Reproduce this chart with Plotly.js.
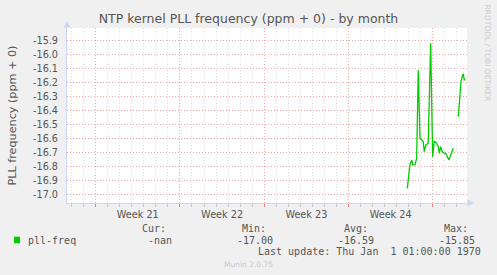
<!DOCTYPE html>
<html>
<head>
<meta charset="utf-8">
<script src="https://cdn.plot.ly/plotly-3.0.1.min.js"></script>
<style>html,body{margin:0;padding:0;background:#f0f0f0;}#chart{width:497px;height:275px;}</style>
</head>
<body>
<div id="chart"></div>
<script>
// ---- data (x = days since start of Week 21) ----
var dayOffsets = [25.88, 26.10, 26.25, 26.33, 26.52, 26.66, 26.79, 26.94, 27.08, 27.21, 27.29, 27.43, 27.62, 27.82, 27.99, 28.12, 28.32, 28.46, 28.54, 28.65, 28.79, 28.95, 29.07, 29.20, 29.34, 29.49, 29.70, 29.90, 30.12, 30.26, 30.34, 30.48, 30.53, 30.61, 30.70];
var pllFreq = [-16.956, -16.789, -16.754, -16.789, -16.789, -16.741, -16.111, -16.599, -16.611, -16.623, -16.694, -16.646, -16.634, -15.920, -16.730, -16.618, -16.634, -16.659, -16.706, -16.659, -16.694, -16.706, -16.706, -16.730, -16.754, -16.718, -16.670, null, -16.444, -16.277, -16.194, -16.146, -16.139, -16.182, -16.177];
var weekStarts = [0, 7, 14, 21, 28];
var weekLabelPos = [3.5, 10.5, 17.5, 24.5];
var weekLabels = ["Week 21", "Week 22", "Week 23", "Week 24"];
var yTickVals = [-17.0, -16.9, -16.8, -16.7, -16.6, -16.5, -16.4, -16.3, -16.2, -16.1, -16.0, -15.9];
var yTickText = ["-17.0", "-16.9", "-16.8", "-16.7", "-16.6", "-16.5", "-16.4", "-16.3", "-16.2", "-16.1", "-16.0", "-15.9"];
var seriesName = "pll-freq";
var statHeaders = ["Cur:", "Min:", "Avg:", "Max:"];
var statValues = ["-nan", "-17.00", "-16.59", "-15.85"];
var lastUpdate = "Last update: Thu Jan\u00a0 1 01:00:00 1970";

// ---- layout helpers (pixel -> paper) ----
var L = 67, R = 467, T = 28, B = 203;
function px(x){ return (x - L) / (R - L); }
function py(y){ return (B - y) / (B - T); }

var xRange = [-2.38, 30.84];
var yRange = [-17.0607, -15.811];
var mono = "DejaVu Sans Mono, monospace";
var sans = "DejaVu Sans, sans-serif";
var fontCol = "#555555";

var annotations = [];
var headRight = [168, 268, 370, 470];
var valRight = [174, 275, 376, 477];
statHeaders.forEach(function(h, i){
  annotations.push({xref:'paper', yref:'paper', x:px(headRight[i]), y:py(228.3), xanchor:'right', yanchor:'middle', text:h, showarrow:false, font:{family:mono, size:10, color:fontCol}});
  annotations.push({xref:'paper', yref:'paper', x:px(valRight[i]), y:py(240), xanchor:'right', yanchor:'middle', text:statValues[i], showarrow:false, font:{family:mono, size:10, color:fontCol}});
});
annotations.push({xref:'paper', yref:'paper', x:px(26), y:py(240), xanchor:'left', yanchor:'middle', text:seriesName, showarrow:false, font:{family:mono, size:10, color:fontCol}});
annotations.push({xref:'paper', yref:'paper', x:px(483), y:py(251.7), xanchor:'right', yanchor:'middle', text:lastUpdate, showarrow:false, font:{family:mono, size:10, color:fontCol}});
annotations.push({xref:'paper', yref:'paper', x:px(248), y:py(264), xanchor:'center', yanchor:'middle', text:"Munin 2.0.75", showarrow:false, font:{family:sans, size:7.5, color:'#c8c8c8'}});
annotations.push({xref:'paper', yref:'paper', x:px(487.5), y:py(53), xanchor:'center', yanchor:'middle', textangle:90, text:"RRDTOOL / TOBI OETIKER", showarrow:false, font:{family:sans, size:7.5, color:'#cccccc'}});

var axisCol = "#CFD6F8";
var shapes = [
  {type:'rect', xref:'paper', yref:'paper', x0:px(14), x1:px(20), y0:py(243.3), y1:py(236.7), fillcolor:'#00cc00', line:{width:0}},
  {type:'path', xref:'paper', yref:'paper', path:'M '+px(63.5)+' '+py(27.5)+' L '+px(67)+' '+py(21)+' L '+px(70.5)+' '+py(27.5)+' Z', fillcolor:axisCol, line:{width:0}},
  {type:'path', xref:'paper', yref:'paper', path:'M '+px(467.5)+' '+py(199.5)+' L '+px(474)+' '+py(203)+' L '+px(467.5)+' '+py(206.5)+' Z', fillcolor:axisCol, line:{width:0}}
];

var trace = {
  x: dayOffsets, y: pllFreq, type:'scatter', mode:'lines', name:seriesName,
  line:{color:'#00cc00', width:1.3}, connectgaps:false, hoverinfo:'skip'
};
var labelTrace = {x:[weekLabelPos[0]], y:[null], xaxis:'x2', yaxis:'y', type:'scatter', mode:'lines', showlegend:false, hoverinfo:'skip'};

var layout = {
  width:497, height:275,
  paper_bgcolor:'#f0f0f0', plot_bgcolor:'#ffffff',
  margin:{l:L, r:497-R, t:T, b:275-B, pad:0},
  showlegend:false,
  title:{text:"NTP kernel PLL frequency (ppm + 0) - by month", xref:'container', x:0.5, xanchor:'center', y:1-19/275, yref:'container', yanchor:'middle', font:{family:sans, size:12.5, color:fontCol}},
  xaxis:{
    range:xRange, tickmode:'array', tickvals:weekStarts, showticklabels:false,
    showgrid:true, gridcolor:'#eaa8a8', griddash:'1px,2px', gridwidth:1,
    ticks:'outside', ticklen:3, tickcolor:'#e08080', tickwidth:1,
    showline:true, linecolor:axisCol, linewidth:1, zeroline:false,
    minor:{dtick:1, tick0:0, showgrid:true, gridcolor:'#dcdcdc', griddash:'1px,2px', gridwidth:1, ticks:'outside', ticklen:3, tickcolor:'#c8c8c8'}
  },
  xaxis2:{
    overlaying:'x', anchor:'y', side:'bottom', range:xRange, tickmode:'array', tickvals:weekLabelPos, ticktext:weekLabels,
    showgrid:false, zeroline:false, showline:false, ticks:'', ticklabelstandoff:4,
    tickfont:{family:sans, size:9.7, color:fontCol}
  },
  yaxis:{
    range:yRange, tickmode:'array', tickvals:yTickVals, ticktext:yTickText,
    showgrid:true, gridcolor:'#eaa8a8', griddash:'1px,2px', gridwidth:1,
    ticks:'', showline:true, linecolor:axisCol, linewidth:1, zeroline:false,
    ticklabelstandoff:6,
    tickfont:{family:sans, size:9.7, color:fontCol},
    title:{text:"PLL frequency (ppm + 0)", standoff:14, font:{family:sans, size:11.2, color:fontCol}}
  },
  annotations:annotations,
  shapes:shapes
};

Plotly.newPlot('chart', [trace, labelTrace], layout, {staticPlot:true, displayModeBar:false});
</script>
</body>
</html>
